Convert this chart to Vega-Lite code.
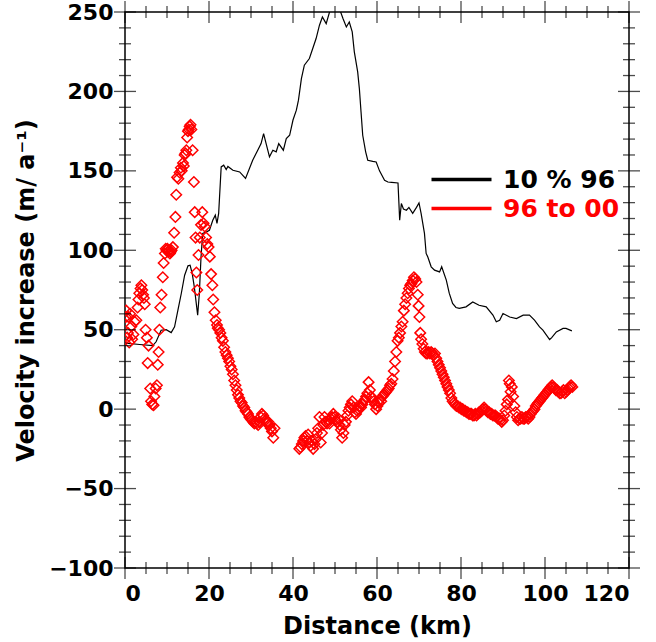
{
  "$schema": "https://vega.github.io/schema/vega-lite/v6.json",
  "width": 504,
  "height": 556,
  "autosize": "none",
  "padding": {"left": 125, "top": 12, "right": 27, "bottom": 74},
  "background": "white",
  "config": {
    "view": {"stroke": "black", "strokeWidth": 1.5},
    "font": "DejaVu Sans",
    "axis": {
      "grid": false,
      "domain": false,
      "ticks": false,
      "labelColor": "black",
      "labelFont": "DejaVu Sans",
      "labelFontWeight": "bold",
      "labelFontSize": 22,
      "titleColor": "black",
      "titleFont": "DejaVu Sans",
      "titleFontWeight": "bold",
      "titleFontSize": 24
    }
  },
  "datasets": {
    "xt": [{"t":0,"k":"major"},{"t":5,"k":"minor"},{"t":10,"k":"minor"},{"t":15,"k":"minor"},{"t":20,"k":"major"},{"t":25,"k":"minor"},{"t":30,"k":"minor"},{"t":35,"k":"minor"},{"t":40,"k":"major"},{"t":45,"k":"minor"},{"t":50,"k":"minor"},{"t":55,"k":"minor"},{"t":60,"k":"major"},{"t":65,"k":"minor"},{"t":70,"k":"minor"},{"t":75,"k":"minor"},{"t":80,"k":"major"},{"t":85,"k":"minor"},{"t":90,"k":"minor"},{"t":95,"k":"minor"},{"t":100,"k":"major"},{"t":105,"k":"minor"},{"t":110,"k":"minor"},{"t":115,"k":"minor"},{"t":120,"k":"major"}],
    "yt": [{"t":-100,"k":"major"},{"t":-90,"k":"minor"},{"t":-80,"k":"minor"},{"t":-70,"k":"minor"},{"t":-60,"k":"minor"},{"t":-50,"k":"major"},{"t":-40,"k":"minor"},{"t":-30,"k":"minor"},{"t":-20,"k":"minor"},{"t":-10,"k":"minor"},{"t":0,"k":"major"},{"t":10,"k":"minor"},{"t":20,"k":"minor"},{"t":30,"k":"minor"},{"t":40,"k":"minor"},{"t":50,"k":"major"},{"t":60,"k":"minor"},{"t":70,"k":"minor"},{"t":80,"k":"minor"},{"t":90,"k":"minor"},{"t":100,"k":"major"},{"t":110,"k":"minor"},{"t":120,"k":"minor"},{"t":130,"k":"minor"},{"t":140,"k":"minor"},{"t":150,"k":"major"},{"t":160,"k":"minor"},{"t":170,"k":"minor"},{"t":180,"k":"minor"},{"t":190,"k":"minor"},{"t":200,"k":"major"},{"t":210,"k":"minor"},{"t":220,"k":"minor"},{"t":230,"k":"minor"},{"t":240,"k":"minor"},{"t":250,"k":"major"}],
    "line": [
      {"d":0.1,"v":41.5},{"d":3.5,"v":40.7},{"d":6.6,"v":40},{"d":7.4,"v":42.4},{"d":8.6,"v":49.7},{"d":9.8,"v":50},{"d":11.0,"v":48.2},{"d":11.8,"v":51.8},{"d":12.6,"v":62.3},{"d":13.4,"v":72.8},{"d":14.2,"v":84.3},{"d":15.0,"v":90.2},{"d":15.5,"v":90.6},{"d":16.0,"v":85.4},{"d":16.5,"v":77},{"d":17.3,"v":59.2},{"d":17.7,"v":72.8},{"d":18.1,"v":95.8},{"d":18.5,"v":110.6},{"d":19.4,"v":111.6},{"d":20.1,"v":112.6},{"d":20.9,"v":118.9},{"d":21.5,"v":122.1},{"d":21.9,"v":116.9},{"d":22.3,"v":123.2},{"d":22.9,"v":152.5},{"d":23.5,"v":153.6},{"d":24.1,"v":150.8},{"d":24.5,"v":152.8},{"d":25.7,"v":150.4},{"d":27.3,"v":149.3},{"d":28.7,"v":145.2},{"d":30.4,"v":156.7},{"d":31.6,"v":163},{"d":32.4,"v":167.2},{"d":33.0,"v":173.5},{"d":33.6,"v":167.2},{"d":34.4,"v":158.8},{"d":35.2,"v":163},{"d":36.0,"v":162},{"d":36.6,"v":167.2},{"d":37.7,"v":163},{"d":38.4,"v":170.3},{"d":39.2,"v":172.4},{"d":40.0,"v":182},{"d":40.8,"v":188.2},{"d":41.3,"v":194.5},{"d":42.0,"v":208},{"d":42.7,"v":216.5},{"d":43.9,"v":220.7},{"d":44.7,"v":227},{"d":45.5,"v":233.3},{"d":46.3,"v":241.7},{"d":47.0,"v":246.9},{"d":47.9,"v":242.7},{"d":48.7,"v":250},{"d":49.3,"v":255},{"d":50.0,"v":258},{"d":50.6,"v":256},{"d":51.2,"v":251},{"d":51.9,"v":245.9},{"d":52.7,"v":240.6},{"d":53.4,"v":243.7},{"d":54.1,"v":237.5},{"d":54.6,"v":224.9},{"d":55.4,"v":212.3},{"d":55.8,"v":201.8},{"d":56.2,"v":187.1},{"d":56.6,"v":172.4},{"d":57.3,"v":162},{"d":57.8,"v":156.7},{"d":59.0,"v":156},{"d":59.8,"v":155.6},{"d":60.6,"v":150},{"d":61.8,"v":144.1},{"d":62.6,"v":143},{"d":63.5,"v":142.8},{"d":65.0,"v":142.4},{"d":65.4,"v":119},{"d":65.8,"v":129.4},{"d":66.3,"v":126},{"d":67.0,"v":125.2},{"d":67.6,"v":127},{"d":68.5,"v":123.2},{"d":69.4,"v":127},{"d":70.0,"v":129.8},{"d":70.5,"v":123.2},{"d":71.3,"v":110.6},{"d":71.7,"v":98},{"d":72.1,"v":95.8},{"d":72.9,"v":89.6},{"d":73.7,"v":87.5},{"d":74.9,"v":86.4},{"d":75.4,"v":89.6},{"d":76.5,"v":81.2},{"d":77.2,"v":73},{"d":78.0,"v":66.5},{"d":78.8,"v":64},{"d":79.6,"v":63.4},{"d":81.2,"v":64.4},{"d":82.8,"v":67.5},{"d":84.3,"v":65.4},{"d":86.0,"v":64.4},{"d":87.6,"v":59.2},{"d":88.4,"v":55},{"d":89.2,"v":56},{"d":90.0,"v":60.2},{"d":91.6,"v":58},{"d":93.2,"v":57},{"d":94.8,"v":59.2},{"d":96.3,"v":59.2},{"d":97.5,"v":56},{"d":98.7,"v":51.8},{"d":99.5,"v":49.7},{"d":101.1,"v":43.8},{"d":101.6,"v":45},{"d":102.7,"v":48.6},{"d":104.3,"v":50.8},{"d":105.0,"v":50.8},{"d":106.4,"v":49.3}
    ],
    "pts": [
      {"d":0.2,"v":58},{"d":0.3,"v":62},{"d":0.5,"v":45},{"d":0.7,"v":48},{"d":0.8,"v":58},{"d":1.0,"v":42},{"d":1.2,"v":60},{"d":1.5,"v":52},{"d":1.7,"v":44},{"d":2.0,"v":47},{"d":2.3,"v":55},{"d":2.7,"v":56},{"d":3.0,"v":64},{"d":3.2,"v":69},{"d":3.4,"v":73},{"d":3.7,"v":76},{"d":3.9,"v":78},{"d":4.1,"v":75},{"d":4.3,"v":72},{"d":4.5,"v":70},{"d":4.7,"v":66},{"d":4.9,"v":50},{"d":5.2,"v":45},{"d":5.4,"v":29},{"d":5.6,"v":40},{"d":6.0,"v":13},{"d":6.2,"v":5},{"d":6.5,"v":3},{"d":6.8,"v":2.5},{"d":7.0,"v":8},{"d":7.3,"v":13},{"d":7.6,"v":15},{"d":7.8,"v":28},{"d":8.0,"v":36},{"d":8.2,"v":50},{"d":8.4,"v":64},{"d":8.7,"v":72},{"d":9.0,"v":83},{"d":9.2,"v":92},{"d":9.5,"v":98},{"d":9.7,"v":101},{"d":9.9,"v":100},{"d":10.1,"v":101},{"d":10.3,"v":99},{"d":10.5,"v":100},{"d":10.7,"v":98},{"d":10.9,"v":99},{"d":11.1,"v":100},{"d":11.4,"v":102},{"d":11.7,"v":111},{"d":12.0,"v":121},{"d":12.2,"v":135},{"d":12.4,"v":146},{"d":12.7,"v":145},{"d":13.0,"v":149},{"d":13.3,"v":152},{"d":13.5,"v":150},{"d":13.8,"v":155},{"d":14.0,"v":153},{"d":14.2,"v":160},{"d":14.4,"v":161},{"d":14.6,"v":163},{"d":14.8,"v":171},{"d":15.0,"v":175},{"d":15.2,"v":176},{"d":15.4,"v":178},{"d":15.6,"v":179},{"d":15.8,"v":176},{"d":16.1,"v":163},{"d":16.4,"v":143},{"d":16.6,"v":124},{"d":16.8,"v":108},{"d":17.0,"v":86},{"d":17.2,"v":75},{"d":17.5,"v":97},{"d":17.8,"v":108},{"d":18.1,"v":116},{"d":18.4,"v":124},{"d":18.7,"v":117},{"d":19.0,"v":115},{"d":19.3,"v":108},{"d":19.6,"v":104},{"d":19.9,"v":102},{"d":20.2,"v":96},{"d":20.5,"v":85},{"d":20.8,"v":78},{"d":21.0,"v":69},{"d":21.3,"v":61},{"d":21.6,"v":56},{"d":21.9,"v":53},{"d":22.1,"v":51},{"d":22.4,"v":50},{"d":22.7,"v":48},{"d":23.0,"v":45},{"d":23.3,"v":43},{"d":23.6,"v":39},{"d":23.9,"v":36},{"d":24.2,"v":34},{"d":24.5,"v":32},{"d":24.8,"v":30},{"d":25.1,"v":27},{"d":25.4,"v":25},{"d":25.7,"v":22},{"d":26.0,"v":18},{"d":26.3,"v":15},{"d":26.6,"v":12},{"d":26.9,"v":9},{"d":27.2,"v":7},{"d":27.5,"v":5},{"d":27.8,"v":4},{"d":28.1,"v":2},{"d":28.4,"v":1},{"d":28.7,"v":-1},{"d":29.0,"v":-2},{"d":29.3,"v":-3},{"d":29.6,"v":-5},{"d":29.9,"v":-6},{"d":30.2,"v":-7},{"d":30.5,"v":-8},{"d":30.8,"v":-9},{"d":31.1,"v":-8},{"d":31.4,"v":-9},{"d":31.7,"v":-10},{"d":32.0,"v":-8},{"d":32.3,"v":-5},{"d":32.6,"v":-3},{"d":32.9,"v":-4},{"d":33.2,"v":-6},{"d":33.5,"v":-7},{"d":33.8,"v":-9},{"d":34.1,"v":-8},{"d":34.4,"v":-10},{"d":34.7,"v":-12},{"d":35.0,"v":-14},{"d":35.3,"v":-18},{"d":35.6,"v":-12},
      {"d":41.5,"v":-25},{"d":41.8,"v":-24},{"d":42.1,"v":-22},{"d":42.4,"v":-20},{"d":42.7,"v":-18},{"d":43.0,"v":-17},{"d":43.3,"v":-20},{"d":43.6,"v":-16},{"d":43.9,"v":-21},{"d":44.2,"v":-23},{"d":44.5,"v":-20},{"d":44.8,"v":-25},{"d":45.1,"v":-22},{"d":45.4,"v":-19},{"d":45.7,"v":-15},{"d":46.0,"v":-12},{"d":46.3,"v":-5},{"d":46.6,"v":-21},{"d":46.9,"v":-15},{"d":47.2,"v":-10},{"d":47.5,"v":-5},{"d":47.8,"v":-8},{"d":48.1,"v":-9},{"d":48.4,"v":-7},{"d":48.7,"v":-9},{"d":49.0,"v":-6},{"d":49.3,"v":-5},{"d":49.6,"v":-3},{"d":49.9,"v":-5},{"d":50.2,"v":-7},{"d":50.5,"v":-8},{"d":50.8,"v":-6},{"d":51.1,"v":-10},{"d":51.4,"v":-13},{"d":51.7,"v":-18},{"d":52.0,"v":-15},{"d":52.3,"v":-10},{"d":52.6,"v":-8},{"d":52.9,"v":-4},{"d":53.2,"v":-1},{"d":53.5,"v":1},{"d":53.8,"v":3},{"d":54.1,"v":5},{"d":54.4,"v":1},{"d":54.7,"v":-2},{"d":55.0,"v":-3},{"d":55.3,"v":-1},{"d":55.6,"v":0},{"d":55.9,"v":2},{"d":56.2,"v":1},{"d":56.5,"v":3},{"d":56.8,"v":5},{"d":57.1,"v":6},{"d":57.4,"v":8},{"d":57.7,"v":10},{"d":58.0,"v":17},{"d":58.3,"v":12},{"d":58.6,"v":8},{"d":58.9,"v":7},{"d":59.2,"v":5},{"d":59.5,"v":3},{"d":59.8,"v":0},{"d":60.1,"v":2},{"d":60.4,"v":4},{"d":60.7,"v":6},{"d":61.0,"v":5},{"d":61.3,"v":8},{"d":61.6,"v":9},{"d":61.9,"v":10},{"d":62.2,"v":11},{"d":62.5,"v":12},{"d":62.8,"v":13},{"d":63.1,"v":15},{"d":63.4,"v":16},{"d":63.7,"v":19},{"d":64.0,"v":24},{"d":64.3,"v":30},{"d":64.6,"v":36},{"d":64.9,"v":43},{"d":65.2,"v":45},{"d":65.5,"v":48},{"d":65.8,"v":52},{"d":66.1,"v":55},{"d":66.4,"v":62},{"d":66.7,"v":66},{"d":67.0,"v":70},{"d":67.3,"v":73},{"d":67.6,"v":76},{"d":67.9,"v":78},{"d":68.2,"v":79},{"d":68.5,"v":81},{"d":68.8,"v":83},{"d":69.1,"v":82},{"d":69.4,"v":80},{"d":69.7,"v":72},{"d":69.9,"v":65},{"d":70.1,"v":58},{"d":70.3,"v":48},{"d":70.5,"v":44},{"d":70.8,"v":41},{"d":71.1,"v":38},{"d":71.4,"v":36},{"d":71.7,"v":35},{"d":72.0,"v":35},{"d":72.3,"v":36},{"d":72.6,"v":35},{"d":72.9,"v":36},{"d":73.2,"v":35},{"d":73.5,"v":34},{"d":73.8,"v":35},{"d":74.1,"v":32},{"d":74.4,"v":30},{"d":74.7,"v":28},{"d":75.0,"v":26},{"d":75.3,"v":24},{"d":75.6,"v":22},{"d":75.9,"v":20},{"d":76.2,"v":18},{"d":76.5,"v":16},{"d":76.8,"v":14},{"d":77.1,"v":12},{"d":77.4,"v":10},{"d":77.7,"v":7},{"d":78.0,"v":5},{"d":78.3,"v":4},{"d":78.6,"v":3},{"d":78.9,"v":2},{"d":79.2,"v":2},{"d":79.5,"v":1},{"d":79.8,"v":1},{"d":80.1,"v":0},{"d":80.4,"v":0},{"d":80.7,"v":-1},{"d":81.0,"v":-1},{"d":81.3,"v":-2},{"d":81.6,"v":-2},{"d":81.9,"v":-3},{"d":82.2,"v":-3},{"d":82.5,"v":-3},{"d":82.8,"v":-4},{"d":83.1,"v":-4},{"d":83.4,"v":-3},{"d":83.7,"v":-4},{"d":84.0,"v":-3},{"d":84.3,"v":-2},{"d":84.6,"v":-2},{"d":84.9,"v":-1},{"d":85.2,"v":0},{"d":85.5,"v":1},{"d":85.8,"v":0},{"d":86.1,"v":-1},{"d":86.4,"v":-2},{"d":86.7,"v":-2},{"d":87.0,"v":-3},{"d":87.3,"v":-3},{"d":87.6,"v":-4},{"d":87.9,"v":-4},{"d":88.2,"v":-4},{"d":88.5,"v":-5},{"d":88.8,"v":-6},{"d":89.1,"v":-6},{"d":89.4,"v":-7},{"d":89.7,"v":-8},{"d":90.0,"v":-7},{"d":90.3,"v":-4},{"d":90.6,"v":-1},{"d":90.9,"v":3},{"d":91.2,"v":6},{"d":91.4,"v":18},{"d":91.6,"v":16},{"d":91.8,"v":11},{"d":92.1,"v":14},{"d":92.4,"v":8},{"d":92.7,"v":2},{"d":93.0,"v":-2},{"d":93.3,"v":-5},{"d":93.6,"v":-7},{"d":93.9,"v":-6},{"d":94.2,"v":-6},{"d":94.5,"v":-5},{"d":94.8,"v":-6},{"d":95.1,"v":-6},{"d":95.4,"v":-5},{"d":95.7,"v":-5},{"d":96.0,"v":-6},{"d":96.3,"v":-5},{"d":96.6,"v":-3},{"d":96.9,"v":-2},{"d":97.2,"v":-1},{"d":97.5,"v":0},{"d":97.8,"v":2},{"d":98.1,"v":3},{"d":98.4,"v":4},{"d":98.7,"v":5},{"d":99.0,"v":6},{"d":99.3,"v":7},{"d":99.6,"v":8},{"d":99.9,"v":9},{"d":100.2,"v":10},{"d":100.5,"v":11},{"d":100.8,"v":12},{"d":101.1,"v":13},{"d":101.4,"v":14},{"d":101.7,"v":15},{"d":102.0,"v":14},{"d":102.3,"v":13},{"d":102.6,"v":12},{"d":102.9,"v":12},{"d":103.2,"v":11},{"d":103.5,"v":10},{"d":103.8,"v":10},{"d":104.1,"v":11},{"d":104.4,"v":12},{"d":104.7,"v":10},{"d":105.0,"v":11},{"d":105.3,"v":12},{"d":105.6,"v":13},{"d":105.9,"v":14},{"d":106.2,"v":15},{"d":106.5,"v":14}
    ]
  },
  "layer": [
    {
      "data": {"name": "line"},
      "mark": {"type": "line", "strokeWidth": 1.2, "clip": true},
      "encoding": {
        "x": {
          "field": "d", "type": "quantitative",
          "scale": {"domain": [0, 120], "nice": false, "zero": false},
          "axis": {
            "orient": "bottom",
            "values": [0,20,40,60,80,100,120],
            "labelPadding": 15,
            "title": "Distance (km)",
            "titlePadding": 10
          }
        },
        "y": {
          "field": "v", "type": "quantitative",
          "scale": {"domain": [-100, 250], "nice": false, "zero": false},
          "axis": {
            "orient": "left",
            "values": [-100,-50,0,50,100,150,200,250],
            "labelPadding": 12,
            "title": "Velocity increase (m/ a⁻¹)",
            "titlePadding": 10
          }
        },
        "color": {
          "datum": "10 % 96",
          "scale": {"domain": ["10 % 96", "96 to 00"], "range": ["#000000", "#ff0000"]},
          "legend": {
            "orient": "none",
            "legendX": 324,
            "legendY": 155,
            "title": null,
            "padding": 0,
            "symbolType": "M-6,0H6",
            "symbolSize": 100,
            "symbolStrokeWidth": 3.5,
            "symbolFillColor": "transparent",
            "labelFont": "DejaVu Sans",
            "labelFontWeight": "bold",
            "labelFontSize": 25,
            "labelOffset": 29,
            "rowPadding": 3,
            "encode": {"labels": {"update": {"fill": {"signal": "datum.value === '96 to 00' ? '#ff0000' : '#000000'"}}}}
          }
        }
      }
    },
    {
      "data": {"name": "pts"},
      "mark": {"type": "point", "shape": "diamond", "filled": false, "size": 110, "strokeWidth": 1.5, "opacity": 1, "clip": true},
      "encoding": {
        "x": {"field": "d", "type": "quantitative"},
        "y": {"field": "v", "type": "quantitative"},
        "color": {"datum": "96 to 00"}
      }
    },
    {
      "mark": {"type": "rule", "color": "black", "strokeWidth": 1.3},
      "encoding": {
        "x": {"datum": 0, "type": "quantitative"},
        "x2": {"datum": 106.5},
        "y": {"datum": 0, "type": "quantitative"}
      }
    },
    {
      "data": {"name": "xt"},
      "mark": {"type": "tick", "orient": "vertical", "color": "black", "thickness": 1.3},
      "encoding": {
        "x": {"field": "t", "type": "quantitative"},
        "y": {"datum": -100, "type": "quantitative"},
        "size": {"condition": {"test": "datum.k == 'major'", "value": 22}, "value": 12}
      }
    },
    {
      "data": {"name": "xt"},
      "mark": {"type": "tick", "orient": "vertical", "color": "black", "thickness": 1.3},
      "encoding": {
        "x": {"field": "t", "type": "quantitative"},
        "y": {"datum": 250, "type": "quantitative"},
        "size": {"condition": {"test": "datum.k == 'major'", "value": 22}, "value": 12}
      }
    },
    {
      "data": {"name": "yt"},
      "mark": {"type": "tick", "orient": "horizontal", "color": "black", "thickness": 1.3},
      "encoding": {
        "y": {"field": "t", "type": "quantitative"},
        "x": {"datum": 0, "type": "quantitative"},
        "size": {"condition": {"test": "datum.k == 'major'", "value": 22}, "value": 12}
      }
    },
    {
      "data": {"name": "yt"},
      "mark": {"type": "tick", "orient": "horizontal", "color": "black", "thickness": 1.3},
      "encoding": {
        "y": {"field": "t", "type": "quantitative"},
        "x": {"datum": 120, "type": "quantitative"},
        "size": {"condition": {"test": "datum.k == 'major'", "value": 22}, "value": 12}
      }
    }
  ]
}
